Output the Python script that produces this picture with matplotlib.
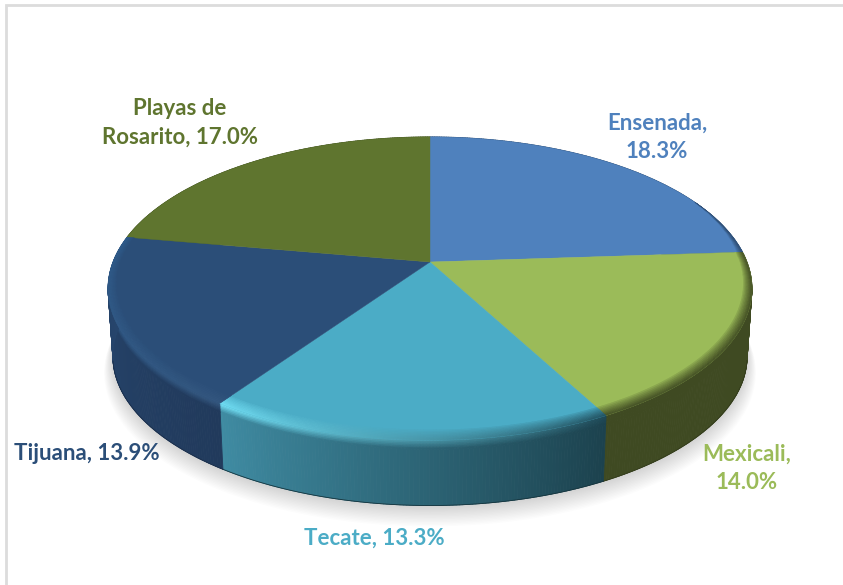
import numpy as np
import matplotlib
matplotlib.use("Agg")
import matplotlib.pyplot as plt
from matplotlib.collections import PolyCollection
from matplotlib.colors import to_rgb

# datos
municipios = ["Ensenada", "Mexicali", "Tecate", "Tijuana", "Playas de Rosarito"]
porcentajes = [18.3, 14.0, 13.3, 13.9, 17.0]
etiquetas = ["Ensenada,\n18.3%", "Mexicali,\n14.0%", "Tecate, 13.3%", "Tijuana, 13.9%", "Playas de\nRosarito, 17.0%"]

# estilo
colores = ["#4f81bd", "#9bbb59", "#4bacc6", "#2b4e78", "#5f752f"]
pared_ini = ["#2c4a6e", "#3f4a22", "#1c424e", "#213a5c", "#3f4f20"]
pared_fin = ["#2c4a6e", "#3f4a22", "#3f8ba2", "#27476f", "#3f4f20"]
bisel_ini = ["#2c4a6e", "#3f4a22", "#1f4a58", "#34577f", None]
bisel_fin = ["#2c4a6e", "#3f4a22", "#72e0f6", "#2f5c8c", None]
pos_etiquetas = [(657, 137), (747, 468), (374, 538), (87, 453), (180, 123)]

# geometria de la vista en perspectiva (pixeles)
CX, CY = 430, 262
SX, SY = 317, 147
K = 0.175
ALTO = 68
ESCALA_BASE = 0.985


def proyectar(ang, r=1.0, escala=1.0, dy=0.0):
    a = np.radians(ang)
    x = r * np.cos(a)
    y = r * np.sin(a)
    w = 1 + K * y
    return CX + escala * SX * x / w, CY + dy - escala * SY * y / w


def mezcla(c1, c2, t):
    return tuple(np.array(to_rgb(c1)) * (1 - t) + np.array(to_rgb(c2)) * t)


fig = plt.figure(figsize=(8.43, 5.85), dpi=100)
ax = fig.add_axes([0, 0, 1, 1])
ax.set_xlim(0, 843)
ax.set_ylim(585, 0)
ax.axis("off")

# marco
ax.plot([6, 6, 843], [585, 5, 5], color="#dcdcdc", lw=2, solid_joinstyle="miter")

fracciones = np.array(porcentajes) / sum(porcentajes)
bordes = 90 - 360 * np.concatenate([[0], np.cumsum(fracciones)])

# sombra
circulo = np.linspace(0, 360, 361)
for i in range(16):
    t = i / 15
    sx, sy = proyectar(circulo, escala=1.012 - 0.03 * t, dy=ALTO + 16 * (1 - t))
    ax.fill(sx, sy, color="#808080", alpha=0.025, lw=0, zorder=1)

# pared lateral, con la parte alta fundida con el bisel
tramos = np.r_[np.linspace(0, 0.14, 7), 1.0]
for i in range(len(municipios)):
    angs = np.linspace(bordes[i], bordes[i + 1], int(abs(bordes[i + 1] - bordes[i])) * 2 + 2)
    quads = []
    cols = []
    for j in range(len(angs) - 1):
        tj = j / (len(angs) - 2)
        par = angs[j:j + 2]
        base = mezcla(pared_ini[i], pared_fin[i], tj)
        if bisel_ini[i] is None:
            arriba = base
        else:
            arriba = mezcla(bisel_ini[i], bisel_fin[i], tj ** 0.9)
        for k in range(len(tramos) - 1):
            e1 = 1 + (ESCALA_BASE - 1) * tramos[k]
            e2 = 1 + (ESCALA_BASE - 1) * tramos[k + 1]
            x1, y1 = proyectar(par, escala=e1, dy=ALTO * tramos[k])
            x2, y2 = proyectar(par, escala=e2, dy=ALTO * tramos[k + 1])
            quads.append(list(zip(x1, y1)) + list(zip(x2[::-1], y2[::-1])))
            cols.append(mezcla(arriba, base, min(1, tramos[k] / 0.12)))
    ax.add_collection(PolyCollection(quads, facecolors=cols, edgecolors=cols, linewidths=0.6, zorder=2))
    bx, by = proyectar(angs, escala=ESCALA_BASE, dy=ALTO)
    visibles = np.sin(np.radians(angs)) < -0.2
    ax.plot(bx[visibles], by[visibles], color=mezcla(pared_ini[i], "#000000", 0.2), lw=0.6, zorder=2.5)

# cara superior
for i in range(len(municipios)):
    angs = np.linspace(bordes[i], bordes[i + 1], 200)
    x, y = proyectar(angs)
    ax.fill(np.r_[CX, x], np.r_[CY, y], color=colores[i], lw=0.3, zorder=3)

# bisel del borde
for i in range(len(municipios)):
    if bisel_ini[i] is None:
        continue
    ini = bordes[i]
    if i == 0:
        ini = bordes[1] + 22
    angs = np.linspace(ini, bordes[i + 1], int(abs(bordes[i + 1] - ini)) * 2 + 2)
    perfil = np.linspace(0, 1, 9)
    quads = []
    cols = []
    for j in range(len(angs) - 1):
        tj = j / (len(angs) - 2)
        par = angs[j:j + 2]
        ancho = 0.025 + 0.03 * np.clip(-np.sin(np.radians(par.mean())), 0, 1)
        if i == 0:
            ancho = 0.02 * tj
        borde = mezcla(bisel_ini[i], bisel_fin[i], tj ** 0.9)
        for k in range(len(perfil) - 1):
            r1 = 1 - ancho * (1 - perfil[k])
            r2 = 1 - ancho * (1 - perfil[k + 1])
            x1, y1 = proyectar(par, r=r1)
            x2, y2 = proyectar(par, r=r2)
            quads.append(list(zip(x1, y1)) + list(zip(x2[::-1], y2[::-1])))
            cols.append(mezcla(colores[i], borde, perfil[k] ** 0.8))
    ax.add_collection(PolyCollection(quads, facecolors=cols, edgecolors=cols, linewidths=0.3, zorder=4))

# etiquetas
for i in range(len(municipios)):
    ax.text(pos_etiquetas[i][0], pos_etiquetas[i][1], etiquetas[i], color=colores[i], family="Lato",
            fontweight="bold", fontsize=16, ha="center", va="center", linespacing=1.42, zorder=5)

fig.savefig("out.png", dpi=100)
